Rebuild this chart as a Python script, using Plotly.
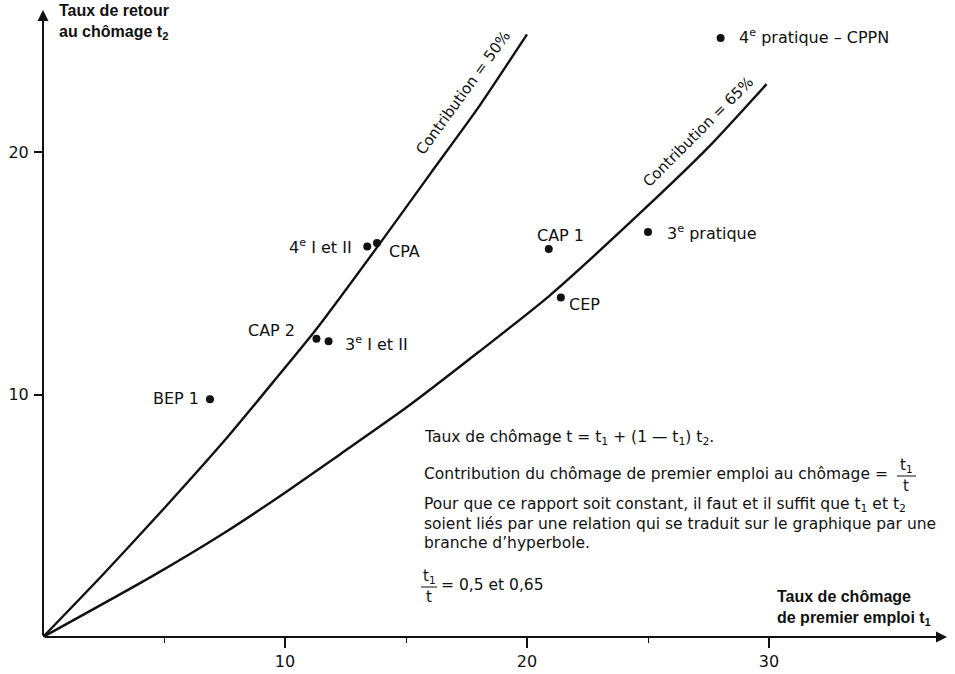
import plotly.graph_objects as go

# ---------------- data ----------------
curve50_t1 = [0, 2.5, 5, 7.5, 9.5, 11.3, 13.9, 16, 18, 20]
curve50_t2 = [0, 2.6, 5.3, 8.1, 10.5, 12.7, 16.2, 19.1, 21.85, 24.85]

curve65_t1 = [0, 4.5, 7.5, 10, 12.3, 15, 18, 20.9, 24.8, 27.5, 29.9]
curve65_t2 = [0, 2.5, 4.3, 5.95, 7.55, 9.45, 11.75, 14.05, 17.6, 20.2, 22.8]

point_names = ["BEP 1", "CAP 2", "3<sup>e</sup> I et II", "4<sup>e</sup> I et II", "CPA",
               "CAP 1", "CEP", "3<sup>e</sup> pratique", "4<sup>e</sup> pratique – CPPN"]
point_t1 = [6.9, 11.3, 11.8, 13.4, 13.8, 20.9, 21.4, 25.0, 28.0]
point_t2 = [9.8, 12.3, 12.2, 16.1, 16.25, 16.0, 14.0, 16.7, 24.7]

x_ticks = [10, 20, 30]
x_minor = [5, 15, 25]
y_ticks = [10, 20]

# ---------------- layout helpers ----------------
W, H = 955, 674
X0PX, Y0PX = 43, 637          # pixel position of the origin
SX, SY = 24.2, 24.25          # pixels per unit
FONT = "DejaVu Sans, Verdana, sans-serif"
BFONT = "Liberation Sans, Arial, sans-serif"
INK = "#111111"
BODY = 15.5

def px(xp):
    return xp / W

def py(yp):
    return 1 - yp / H

fig = go.Figure()

fig.add_trace(go.Scatter(x=curve50_t1, y=curve50_t2, mode="lines",
                         line=dict(color=INK, width=2.4, shape="spline", smoothing=0.6),
                         hoverinfo="skip"))
fig.add_trace(go.Scatter(x=curve65_t1, y=curve65_t2, mode="lines",
                         line=dict(color=INK, width=2.4, shape="spline", smoothing=0.6),
                         hoverinfo="skip"))
fig.add_trace(go.Scatter(x=point_t1, y=point_t2, mode="markers",
                         marker=dict(color=INK, size=8),
                         text=point_names, hoverinfo="text"))

# point labels (anchor, xshift, yshift)
label_place = [("right", -9, 1), ("right", -19, 8), ("left", 14, -2), ("right", -13, 0),
               ("left", 10, -9), ("center", 12, 14), ("left", 6, -7), ("left", 17, 0),
               ("left", 16, 2)]
annotations = []
for name, x, y, (anc, dx, dy) in zip(point_names, point_t1, point_t2, label_place):
    annotations.append(dict(x=x, y=y, xref="x", yref="y", text=name, showarrow=False,
                            xanchor=anc, yanchor="middle", xshift=dx, yshift=dy,
                            font=dict(family=FONT, size=16, color=INK)))

# curve labels
annotations.append(dict(x=(463 - X0PX) / SX, y=(Y0PX - 93) / SY, xref="x", yref="y",
                        text="Contribution = 50%", showarrow=False, textangle=-54,
                        font=dict(family=FONT, size=15, color=INK)))
annotations.append(dict(x=(698 - X0PX) / SX, y=(Y0PX - 132) / SY, xref="x", yref="y",
                        text="Contribution = 65%", showarrow=False, textangle=-45,
                        font=dict(family=FONT, size=15, color=INK)))

# axes with arrows
annotations.append(dict(x=(947 - X0PX) / SX, y=0, ax=0, ay=0, xref="x", yref="y",
                        axref="x", ayref="y", text="", showarrow=True, arrowhead=2,
                        arrowsize=1.1, arrowwidth=2, arrowcolor=INK))
annotations.append(dict(x=0, y=(Y0PX - 10) / SY, ax=0, ay=0, xref="x", yref="y",
                        axref="x", ayref="y", text="", showarrow=True, arrowhead=2,
                        arrowsize=1.1, arrowwidth=2, arrowcolor=INK))

# axis titles
annotations.append(dict(x=px(57), y=py(22), xref="paper", yref="paper",
                        text="<b>Taux de retour<br>au chômage t<sub>2</sub></b>",
                        showarrow=False, xanchor="left", yanchor="middle", align="left",
                        font=dict(family=BFONT, size=16, color=INK)))
annotations.append(dict(x=px(775), y=py(608), xref="paper", yref="paper",
                        text="<b>Taux de chômage<br>de premier emploi t<sub>1</sub></b>",
                        showarrow=False, xanchor="left", yanchor="middle", align="left",
                        font=dict(family=BFONT, size=16, color=INK)))

# explanatory text block
text_lines = [
    (438, "Taux de chômage t = t<sub>1</sub> + (1 — t<sub>1</sub>) t<sub>2</sub>."),
    (474, "Contribution du chômage de premier emploi au chômage ="),
    (505, "Pour que ce rapport soit constant, il faut et il suffit que t<sub>1</sub> et t<sub>2</sub>"),
    (524, "soient liés par une relation qui se traduit sur le graphique par une"),
    (543, "branche d’hyperbole."),
]
for yp, t in text_lines:
    annotations.append(dict(x=px(422), y=py(yp), xref="paper", yref="paper", text=t,
                            showarrow=False, xanchor="left", yanchor="middle",
                            font=dict(family=FONT, size=BODY, color=INK)))

# fractions t1 / t
def fraction(xc, ybar):
    annotations.append(dict(x=px(xc), y=py(ybar - 10), xref="paper", yref="paper",
                            text="t<sub>1</sub>", showarrow=False, xanchor="center",
                            yanchor="middle", font=dict(family=FONT, size=15, color=INK)))
    annotations.append(dict(x=px(xc), y=py(ybar + 11), xref="paper", yref="paper",
                            text="t", showarrow=False, xanchor="center",
                            yanchor="middle", font=dict(family=FONT, size=15, color=INK)))

fraction(906, 475)
fraction(429, 586)
annotations.append(dict(x=px(439), y=py(585), xref="paper", yref="paper",
                        text="= 0,5 et 0,65", showarrow=False, xanchor="left",
                        yanchor="middle", font=dict(family=FONT, size=BODY, color=INK)))

shapes = [
    dict(type="line", xref="paper", yref="paper", x0=px(897), x1=px(916),
         y0=py(476), y1=py(476), line=dict(color=INK, width=1)),
    dict(type="line", xref="paper", yref="paper", x0=px(421), x1=px(437),
         y0=py(587), y1=py(587), line=dict(color=INK, width=1)),
]

fig.update_layout(
    width=W, height=H, margin=dict(l=0, r=0, t=0, b=0),
    paper_bgcolor="white", plot_bgcolor="white", showlegend=False,
    annotations=annotations, shapes=shapes,
    xaxis=dict(domain=[X0PX / W, 1], range=[0, (W - X0PX) / SX],
               tickvals=x_ticks, ticks="outside", ticklen=10, tickwidth=1.5,
               tickcolor=INK, showgrid=False, zeroline=False, showline=False,
               tickfont=dict(family=FONT, size=16, color=INK),
               minor=dict(tickvals=x_minor, ticks="outside", ticklen=5,
                          tickwidth=1.2, tickcolor=INK, showgrid=False)),
    yaxis=dict(domain=[(H - Y0PX) / H, 1], range=[0, Y0PX / SY],
               tickvals=y_ticks, ticks="outside", ticklen=8, tickwidth=1.5,
               tickcolor=INK, showgrid=False, zeroline=False, showline=False,
               ticklabelstandoff=2,
               tickfont=dict(family=FONT, size=16, color=INK)),
)

fig.write_html("out.html")
